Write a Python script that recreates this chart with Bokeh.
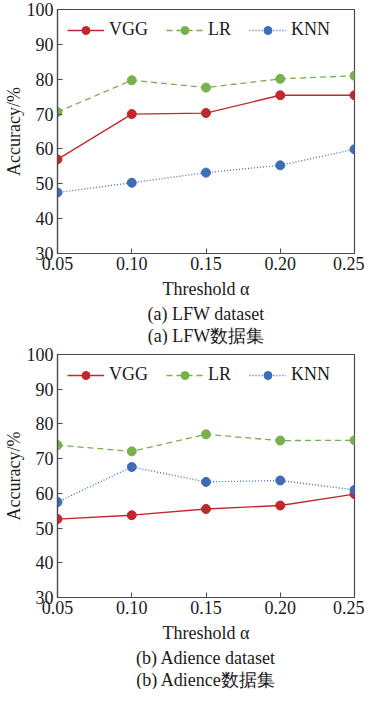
from bokeh.plotting import figure
from bokeh.layouts import column
from bokeh.models import Title, FixedTicker, Range1d
from bokeh.embed import file_html
from bokeh.resources import INLINE

thresholds = [0.05, 0.10, 0.15, 0.20, 0.25]
tick_labels = ["0.05", "0.10", "0.15", "0.20", "0.25"]

lfw_vgg = [57.0, 70.0, 70.3, 75.4, 75.4]
lfw_lr = [70.6, 79.7, 77.6, 80.1, 81.0]
lfw_knn = [47.5, 50.3, 53.2, 55.3, 59.9]

adience_vgg = [52.6, 53.7, 55.5, 56.5, 59.8]
adience_lr = [73.9, 72.1, 77.0, 75.2, 75.3]
adience_knn = [57.5, 67.6, 63.3, 63.7, 61.0]

FONT = "Liberation Serif"
RED = "#c0282e"
GREEN = "#79b04b"
BLUE = "#3f6db5"
AX = "#4a4a4a"


def make_plot(vgg, lr, knn, cap_en, cap_cn, height):
    p = figure(width=364, height=height, output_backend="svg", toolbar_location=None,
               x_range=Range1d(0.05, 0.25), y_range=Range1d(30, 100),
               min_border_left=30, min_border_right=10, min_border_top=9, min_border_bottom=2)
    p.grid.visible = False
    p.outline_line_color = AX
    p.outline_line_width = 1.2
    p.background_fill_color = "white"

    series = [(vgg, "VGG", RED, "solid"), (lr, "LR", GREEN, "6 4"), (knn, "KNN", BLUE, "1 2")]
    for ys, name, col, dash in series:
        p.line(thresholds, ys, line_color=col, line_width=1.3, line_dash=dash, legend_label=name)
        p.scatter(thresholds, ys, size=9, fill_color=col, line_color=col, legend_label=name)

    p.xaxis.ticker = FixedTicker(ticks=thresholds)
    p.xaxis.major_label_overrides = {t: l for t, l in zip(thresholds, tick_labels)}
    p.yaxis.ticker = FixedTicker(ticks=[30, 40, 50, 60, 70, 80, 90, 100])
    for ax in (p.xaxis, p.yaxis):
        ax.axis_line_color = AX
        ax.axis_line_width = 1.2
        ax.major_tick_line_color = AX
        ax.major_tick_in = 5
        ax.major_tick_out = 0
        ax.minor_tick_line_color = None
        ax.major_label_text_font = FONT
        ax.major_label_text_font_size = "18px"
        ax.major_label_text_color = "#1a1a1a"
        ax.axis_label_text_font = FONT
        ax.axis_label_text_font_size = "18px"
        ax.axis_label_text_font_style = "normal"
        ax.axis_label_text_color = "#1a1a1a"
    p.xaxis.major_label_standoff = 3
    p.yaxis.major_label_standoff = 4
    p.xaxis.axis_label = "Threshold α"
    p.yaxis.axis_label = "Accuracy/%"
    p.xaxis.axis_label_standoff = 6
    p.yaxis.axis_label_standoff = 0

    for txt in (cap_en, cap_cn):
        t = Title(text=txt, align="center", text_font=FONT, text_font_size="18px",
                  text_font_style="normal", text_color="#1a1a1a", standoff=0, offset=0)
        p.add_layout(t, "below")

    lg = p.legend[0]
    lg.orientation = "horizontal"
    lg.location = "top_left"
    lg.border_line_color = None
    lg.background_fill_alpha = 0
    lg.label_text_font = FONT
    lg.label_text_font_size = "18px"
    lg.label_text_color = "#1a1a1a"
    lg.glyph_width = 37
    lg.glyph_height = 20
    lg.label_standoff = 5
    lg.spacing = 18
    lg.margin = 10
    lg.padding = 5
    return p


p1 = make_plot(lfw_vgg, lfw_lr, lfw_knn, "(a) LFW dataset", "(a) LFW数据集", 345)
p2 = make_plot(adience_vgg, adience_lr, adience_knn, "(b) Adience dataset", "(b) Adience数据集", 344)

p = column(p1, p2, spacing=0)
open("out.html", "w").write(file_html(p, INLINE))
